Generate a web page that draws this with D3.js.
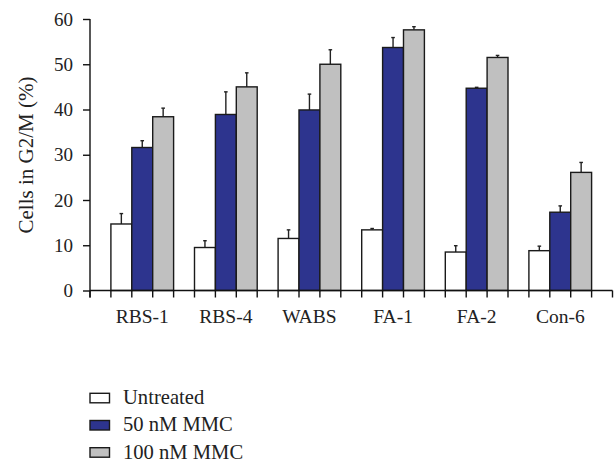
<!DOCTYPE html>
<html>
<head>
<meta charset="utf-8">
<script src="https://cdn.jsdelivr.net/npm/d3@7"></script>
<style>
  html, body { margin: 0; padding: 0; background: #fff; }
  svg { display: block; font-family: "Liberation Serif", "Times New Roman", serif; }
</style>
</head>
<body>
<svg id="chart" width="614" height="462"></svg>
<script>
// ---- data ----
const categories = ["RBS-1", "RBS-4", "WABS", "FA-1", "FA-2", "Con-6"];
const seriesNames = ["Untreated", "50 nM MMC", "100 nM MMC"];
const untreated = [14.7, 9.5, 11.5, 13.4, 8.5, 8.8];
const mmc50     = [31.6, 38.9, 39.9, 53.7, 44.7, 17.3];
const mmc100    = [38.4, 45.0, 50.0, 57.6, 51.5, 26.1];
const errUntreated = [2.3, 1.5, 1.9, 0.3, 1.4, 1.0];
const err50        = [1.5, 5.0, 3.5, 2.2, 0.2, 1.4];
const err100       = [1.9, 3.1, 3.2, 0.7, 0.45, 2.2];
const yTicks = [0, 10, 20, 30, 40, 50, 60];
const yLabel = "Cells in G2/M (%)";
const colors = ["#ffffff", "#2d348e", "#c0c0c0"];

const values = [untreated, mmc50, mmc100];
const errors = [errUntreated, err50, err100];

// ---- layout ----
const svg = d3.select("#chart");
const x0Left = 90;
const slot = 20.9;
const y = d3.scaleLinear().domain([0, 60]).range([290.5, 19]);

const x0 = d3.scaleBand()
  .domain(categories)
  .range([x0Left + slot, x0Left + slot + slot * 4 * (categories.length - 0.25)])
  .paddingInner(0.25)
  .paddingOuter(0);
const x1 = d3.scaleBand().domain(seriesNames).range([0, x0.bandwidth()]);
const axisEnd = x0Left + slot * (4 * categories.length + 1);

// bars
const bars = [];
categories.forEach((c, i) => {
  seriesNames.forEach((s, j) => {
    bars.push({ c, s, j, v: values[j][i], e: errors[j][i] });
  });
});

const g = svg.append("g");

// error bars (drawn behind bars' tops; the line starts at bar top)
g.selectAll("line.err").data(bars).join("line")
  .attr("x1", d => x0(d.c) + x1(d.s) + x1.bandwidth() / 2)
  .attr("x2", d => x0(d.c) + x1(d.s) + x1.bandwidth() / 2)
  .attr("y1", d => y(d.v))
  .attr("y2", d => y(d.v + d.e))
  .attr("stroke", "#222").attr("stroke-width", 1.4);
g.selectAll("line.cap").data(bars).join("line")
  .attr("x1", d => x0(d.c) + x1(d.s) + x1.bandwidth() / 2 - 1.8)
  .attr("x2", d => x0(d.c) + x1(d.s) + x1.bandwidth() / 2 + 1.8)
  .attr("y1", d => y(d.v + d.e))
  .attr("y2", d => y(d.v + d.e))
  .attr("stroke", "#222").attr("stroke-width", 1.4);

g.selectAll("rect.bar").data(bars).join("rect")
  .attr("x", d => x0(d.c) + x1(d.s))
  .attr("y", d => y(d.v))
  .attr("width", x1.bandwidth())
  .attr("height", d => y(0) - y(d.v))
  .attr("fill", d => colors[d.j])
  .attr("stroke", "#1a1a1a")
  .attr("stroke-width", 1.4);

// y axis
const yAxis = d3.axisLeft(y).tickValues(yTicks).tickSize(7).tickPadding(10).tickSizeOuter(0);
const ya = svg.append("g").attr("transform", `translate(${x0Left},0)`).call(yAxis);
ya.select(".domain").attr("stroke", "#111").attr("stroke-width", 1.4)
  .attr("d", `M0,${y(60)}V${y(0) + 7}`);
ya.selectAll(".tick line").attr("stroke", "#111").attr("stroke-width", 1.4);
ya.selectAll(".tick text").attr("font-size", 19).attr("fill", "#222")
  .attr("font-family", "Liberation Serif, serif");

// x axis line and ticks at every slot boundary
const tickXs = [x0Left];
categories.forEach(c => {
  tickXs.push(x0(c));
  seriesNames.forEach(s => tickXs.push(x0(c) + x1(s) + x1.bandwidth()));
});
tickXs.push(axisEnd);
svg.append("line")
  .attr("x1", x0Left).attr("x2", axisEnd)
  .attr("y1", y(0)).attr("y2", y(0))
  .attr("stroke", "#111").attr("stroke-width", 1.4);
svg.append("g").selectAll("line").data(tickXs).join("line")
  .attr("x1", d => d).attr("x2", d => d)
  .attr("y1", y(0)).attr("y2", y(0) + 7)
  .attr("stroke", "#111").attr("stroke-width", 1.4);

// category labels
svg.append("g").selectAll("text").data(categories).join("text")
  .attr("x", d => x0(d) + x0.bandwidth() / 2)
  .attr("y", 323)
  .attr("text-anchor", "middle")
  .attr("font-size", 19.5)
  .attr("fill", "#222")
  .text(d => d);

// y label
svg.append("text")
  .attr("transform", `translate(33,155) rotate(-90)`)
  .attr("text-anchor", "middle")
  .attr("font-size", 21)
  .attr("fill", "#222")
  .text(yLabel);

// legend
const leg = svg.append("g").selectAll("g").data(seriesNames).join("g")
  .attr("transform", (d, i) => `translate(90,${393.3 + i * 27.2})`);
leg.append("rect")
  .attr("x", 0).attr("y", 0).attr("width", 19.5).attr("height", 9.5)
  .attr("fill", (d, i) => colors[i])
  .attr("stroke", "#1a1a1a").attr("stroke-width", 1.4);
leg.append("text")
  .attr("x", 33).attr("y", 10.8)
  .attr("font-size", 20.6)
  .attr("fill", "#222")
  .text(d => d);
</script>
</body>
</html>
